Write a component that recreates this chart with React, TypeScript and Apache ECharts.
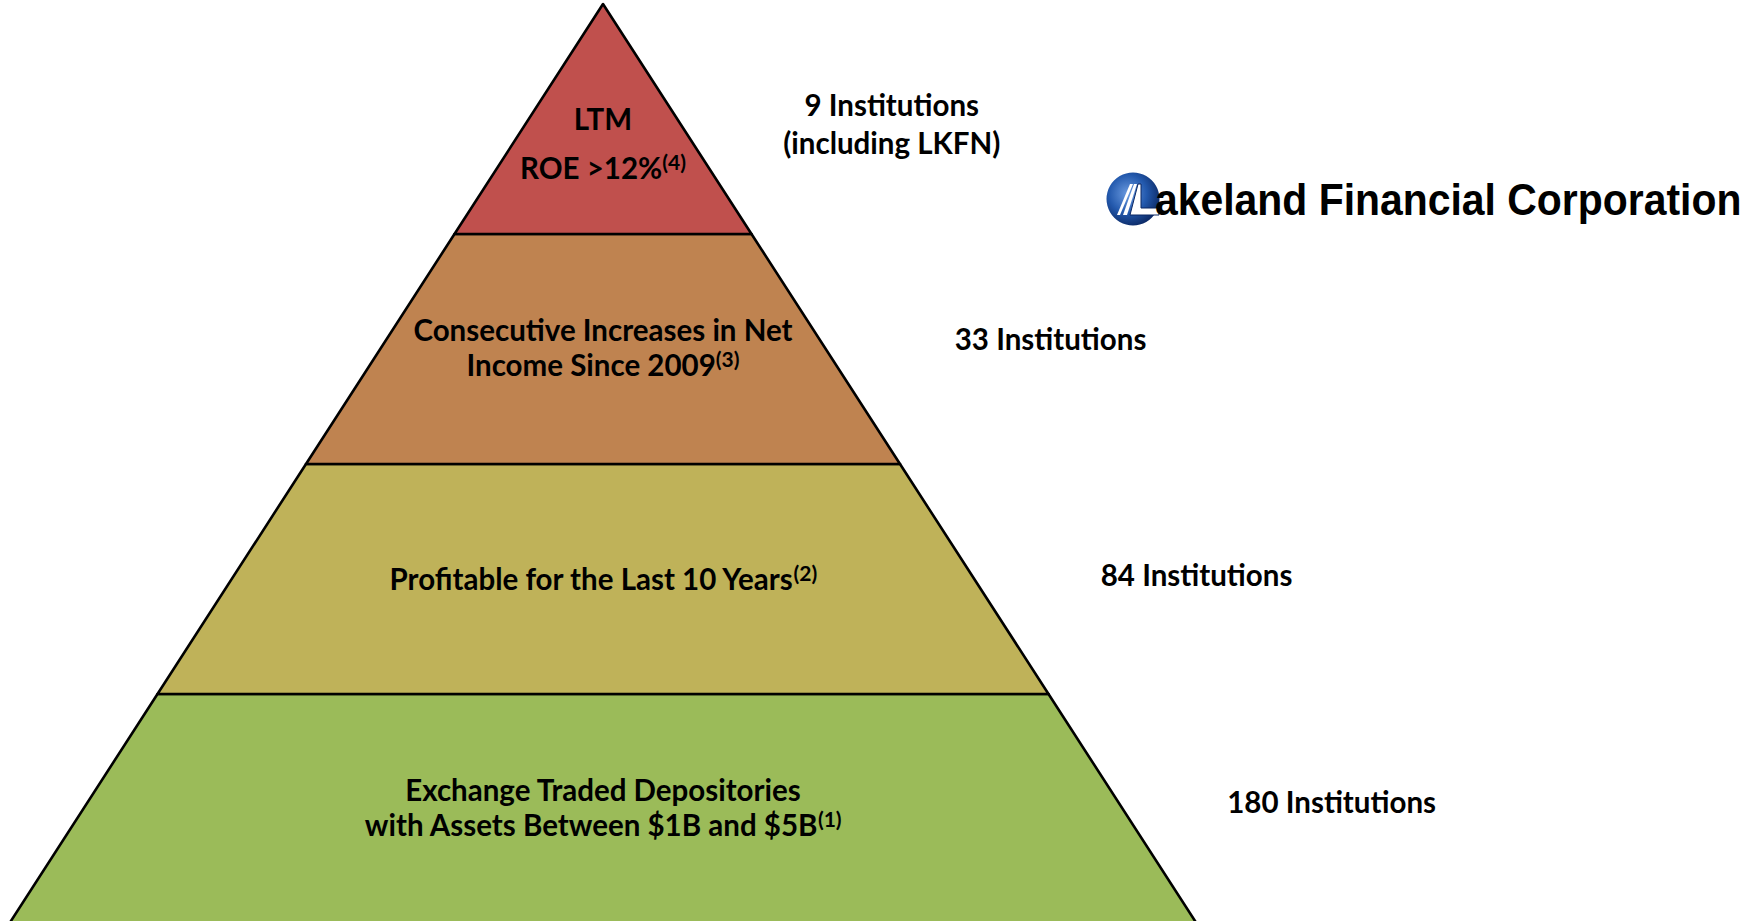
import React, { useEffect, useRef } from 'react';
import * as echarts from 'echarts';

// Tiers listed bottom to top
const tierLines: string[][] = [
  ['Exchange Traded Depositories', 'with Assets Between $1B and $5B'],
  ['Profitable for the Last 10 Years'],
  ['Consecutive Increases in Net', 'Income Since 2009'],
  ['LTM', 'ROE >12%'],
];
const tierFootnotes = ['(1)', '(2)', '(3)', '(4)'];
const tierLevels = [4, 3, 2, 1];
const institutionCounts = [180, 84, 33, 9];
const countNotes = ['', '', '', '(including LKFN)'];
const tierColors = ['#9BBB59', '#BFB259', '#BF8350', '#C0504D'];

const FONT = 'Lato, "Open Sans", sans-serif';

export default function App() {
  const ref = useRef<HTMLDivElement>(null);
  useEffect(() => {
    document.body.style.margin = '0';
    document.body.style.overflow = 'hidden';
    if (!ref.current) return;
    const chart = echarts.init(ref.current, null, { renderer: 'svg' });

    const richInside = (lh: number) => ({
      b: { fontFamily: FONT, fontWeight: 'bold', fontSize: 29.5, color: '#000', lineHeight: lh },
      s: { fontFamily: FONT, fontWeight: 'bold', fontSize: 21, color: '#000', lineHeight: 21, padding: [0, 0, 12, 0] },
    });

    const insidePad = [[0, 0, 4, 0], [0, 0, 2, 0], [0, 0, 4, 0], [48, 0, 0, 0]];
    const insideData = tierLevels.map((lv, i) => {
      const lines = tierLines[i];
      const text = lines
        .map((l, j) => `{b|${l}}` + (j === lines.length - 1 ? `{s|${tierFootnotes[i]}}` : ''))
        .join('\n');
      const isTop = i === tierLevels.length - 1;
      return {
        value: lv,
        name: lines.join(' '),
        itemStyle: { color: tierColors[i] },
        label: {
          show: true,
          position: 'inside',
          formatter: text,
          padding: insidePad[i],
          rich: richInside(isTop ? 49 : 35),
        },
      };
    });

    const rightLen = [99.5, 121.5, 124, 102];
    const rightPad = [[0, 0, 16, 0], [0, 0, 10, 0], [0, 0, 22, 0], [8, 0, 0, 0]];
    const rightData = tierLevels.map((lv, i) => {
      const main = `${institutionCounts[i]} Institutions`;
      const note = countNotes[i];
      const text = note ? `{r|${main}}\n{r|${note}}` : `{r|${main}}`;
      const r: any = { fontFamily: FONT, fontWeight: 'bold', fontSize: 29.5, color: '#000', lineHeight: 38 };
      if (note) {
        r.width = 215;
        r.align = 'center';
      }
      return {
        value: lv,
        name: main,
        itemStyle: { color: 'rgba(0,0,0,0)', borderWidth: 0 },
        label: { show: true, position: 'right', formatter: text, padding: rightPad[i], rich: { r } },
        labelLine: { show: false, length: rightLen[i] },
      };
    });

    const common = {
      type: 'funnel',
      left: 9,
      top: 4,
      width: 1188,
      height: 920,
      min: 0,
      max: 4,
      minSize: '0%',
      maxSize: '100%',
      sort: 'ascending',
      gap: 0,
      silent: true,
      emphasis: { disabled: true },
    };

    chart.setOption({
      animation: false,
      series: [
        {
          ...common,
          itemStyle: { borderColor: '#000', borderWidth: 2.6 },
          data: insideData,
        },
        {
          ...common,
          data: rightData,
        },
      ],
      graphic: [
        {
          type: 'circle',
          shape: { cx: 1133, cy: 199, r: 26.5 },
          style: {
            fill: new echarts.graphic.RadialGradient(0.4, 0.4, 0.65, [
              { offset: 0, color: '#6b9be0' },
              { offset: 0.55, color: '#2359ad' },
              { offset: 1, color: '#0b2762' },
            ]),
          },
        },
        { type: 'polygon', shape: { points: [[1117, 215], [1120, 215], [1133, 184], [1130, 184]] }, style: { fill: '#fff' } },
        { type: 'polygon', shape: { points: [[1123, 215], [1127, 215], [1137, 184], [1134, 184]] }, style: { fill: '#fff' } },
        {
          type: 'polygon',
          shape: { points: [[1130, 215], [1138, 184], [1141, 184], [1141, 208], [1159, 208], [1159, 215]] },
          style: { fill: '#fff', stroke: '#0b2762', lineWidth: 1 },
        },
        {
          type: 'text',
          x: 1155,
          y: 200,
          scaleX: 0.93,
          style: {
            text: 'akeland Financial Corporation',
            fontFamily: '"Liberation Sans", Arial, sans-serif',
            fontWeight: 'bold',
            fontSize: 44,
            fill: '#000',
            align: 'left',
            verticalAlign: 'middle',
          },
        },
      ],
    });
    return () => chart.dispose();
  }, []);
  return <div ref={ref} style={{ width: 1757, height: 921 }} />;
}
